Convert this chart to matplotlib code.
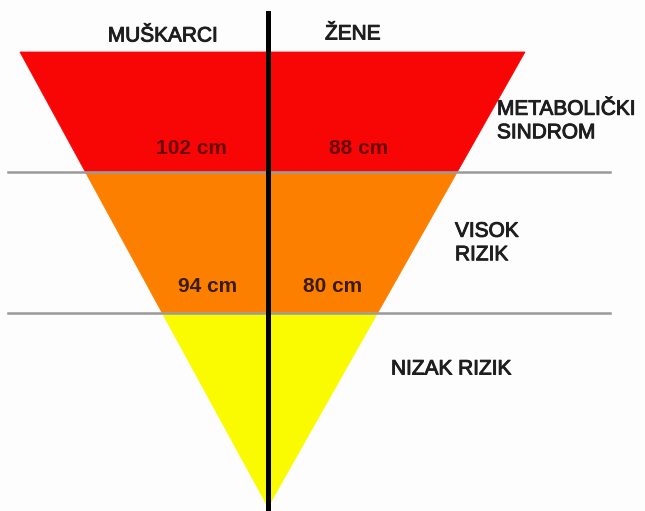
import matplotlib
matplotlib.use("Agg")
from matplotlib import pyplot as plt
import matplotlib.patheffects as pe

plt.rcParams['font.family'] = ['Liberation Sans', 'DejaVu Sans']

# podaci
groups = ["MUŠKARCI", "ŽENE"]
band_names = ["METABOLIČKI\nSINDROM", "VISOK\nRIZIK", "NIZAK RIZIK"]
band_colors = ["#f80606", "#fd7f00", "#fbfb00"]
men_waist = [102, 94]
women_waist = [88, 80]

# geometrija (pikseli)
W, H = 645, 511
top_y, apex_y = 52, 507
left_x, right_x, apex_x = 20, 525, 268
band_edges = [52, 172, 313, 507]


def edge_x(y, side):
    t = (y - top_y) / (apex_y - top_y)
    start = left_x if side == "L" else right_x
    return start + t * (apex_x - start)


fig = plt.figure(figsize=(W / 100, H / 100), dpi=100)
ax = fig.add_axes([0, 0, 1, 1])
ax.set_xlim(0, W)
ax.set_ylim(H, 0)
ax.axis('off')
fig.patch.set_facecolor('#fdfdfd')

# pojasevi trokuta
for i, color in enumerate(band_colors):
    y0, y1 = band_edges[i], band_edges[i + 1]
    xs = [edge_x(y0, "L"), edge_x(y0, "R"), edge_x(y1, "R"), edge_x(y1, "L")]
    ys = [y0, y0, y1, y1]
    ax.fill(xs, ys, color=color, lw=0.6, ec=color, zorder=1)

# sive crte
for y in band_edges[1:3]:
    ax.plot([8, 610], [y, y], color='#9a9a9a', lw=1.8, zorder=2)

# os
ax.plot([268, 268], [13, 511], color='black', lw=3.6, zorder=3)

# malo deblji tekst
heavy = [pe.Stroke(linewidth=0.7, foreground='#1e1e1e'), pe.Normal()]

# naslovi
ax.text(163, 36, groups[0], fontsize=15, color='#1e1e1e', ha='center', va='center',
        path_effects=heavy)
ax.text(353, 34, groups[1], fontsize=15, color='#1e1e1e', ha='center', va='center',
        path_effects=heavy)

# opisi pojaseva
label_pos = [(497, 121), (455, 243), (391, 369)]
for name, (x, y) in zip(band_names, label_pos):
    ax.text(x, y, name, fontsize=15, color='#1e1e1e', ha='left', va='center',
            linespacing=1.3, path_effects=heavy)

# granice opsega struka
men_pos = [(191, 148), (208, 286)]
women_pos = [(359, 148), (333, 286)]
txt_colors = ["#6a0808", "#3a1c00"]
for i in range(2):
    ax.text(*men_pos[i], f"{men_waist[i]} cm", fontsize=15, fontweight='bold',
            color=txt_colors[i], ha='center', va='center')
    ax.text(*women_pos[i], f"{women_waist[i]} cm", fontsize=15, fontweight='bold',
            color=txt_colors[i], ha='center', va='center')

plt.savefig('out.png', dpi=100, facecolor=fig.get_facecolor())
plt.close()
